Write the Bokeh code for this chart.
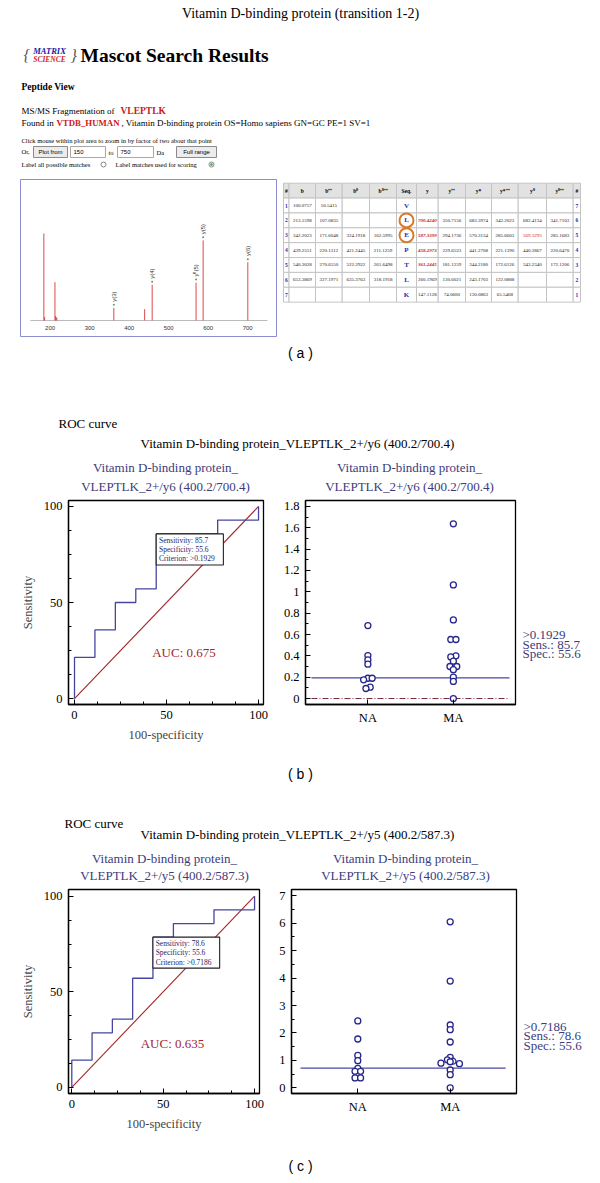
import math
from bokeh.plotting import figure
from bokeh.layouts import column, row
from bokeh.models import Range1d, FixedTicker, PrintfTickFormatter
from bokeh.core.properties import value
from bokeh.embed import file_html
from bokeh.resources import INLINE

SERIF = value("Liberation Serif")
SANS = value("Liberation Sans")

# ---------------- data ----------------
page_title = "Vitamin D-binding protein (transition 1-2)"
peptide = "VLEPTLK"
protein_acc = "VTDB_HUMAN"
protein_rest = ", Vitamin D-binding protein OS=Homo sapiens GN=GC PE=1 SV=1"
range_from = "150"
range_to = "750"

spec_mz = [184.1, 186.0, 212.2, 213.6, 215.1, 217.0, 361.24, 439.26, 458.30, 569.33, 587.34, 700.42]
spec_int = [1.00, 0.04, 0.44, 0.05, 0.04, 0.03, 0.145, 0.13, 0.41, 0.435, 0.92, 0.67]
ion_labels = ["y(3)", "y(4)", "y\u2070(5)", "y(5)", "y(6)"]
ion_mz = [361.24, 458.30, 569.33, 587.34, 700.42]
ion_int = [0.145, 0.41, 0.435, 0.92, 0.67]
spec_ticks = [200, 300, 400, 500, 600, 700]

tbl_header = ["#", "b", "b\u207a\u207a", "b\u2070", "b\u2070\u207a\u207a", "Seq.", "y", "y\u207a\u207a",
              "y*", "y*\u207a\u207a", "y\u2070", "y\u2070\u207a\u207a", "#"]
col_idx = ["1", "2", "3", "4", "5", "6", "7"]
col_b = ["100.0757", "213.1598", "342.2023", "439.2551", "540.3028", "653.3869", ""]
col_b2 = ["50.5415", "107.0835", "171.6048", "220.1312", "270.6550", "327.1971", ""]
col_b0 = ["", "", "324.1918", "421.2445", "522.2922", "635.3763", ""]
col_b02 = ["", "", "162.5995", "211.1259", "261.6498", "318.1918", ""]
col_seq = ["V", "L", "E", "P", "T", "L", "K"]
col_y = ["", "700.4240", "587.3399", "458.2973", "361.2445", "260.1969", "147.1128"]
col_y2 = ["", "350.7156", "294.1736", "229.6523", "181.1259", "130.6021", "74.0600"]
col_ys = ["", "683.3974", "570.3134", "441.2708", "344.2180", "243.1703", "130.0863"]
col_ys2 = ["", "342.2023", "285.6603", "221.1390", "172.6126", "122.0888", "65.5468"]
col_y0 = ["", "682.4134", "569.3293", "440.2867", "343.2340", "", ""]
col_y02 = ["", "341.7103", "285.1683", "220.6470", "172.1206", "", ""]
col_ridx = ["7", "6", "5", "4", "3", "2", "1"]
matched_y = [False, True, True, True, True, False, False]
matched_y0 = [False, False, True, False, False, False, False]
circled_seq = [False, True, True, False, False, False, False]

roc_title_b = "Vitamin D-binding protein_VLEPTLK_2+/y6 (400.2/700.4)"
sub1 = "Vitamin D-binding protein_"
sub2_b = "VLEPTLK_2+/y6 (400.2/700.4)"
roc_b_fpr = [0, 0, 11.1, 11.1, 22.2, 22.2, 33.3, 33.3, 44.4, 44.4, 77.8, 77.8, 100, 100]
roc_b_tpr = [0, 21.4, 21.4, 35.7, 35.7, 50.0, 50.0, 57.1, 57.1, 85.7, 85.7, 92.9, 92.9, 100]
crit_b, sens_b, spec_b, auc_b = 0.1929, 85.7, 55.6, 0.675
na_b = [0.684, 0.403, 0.362, 0.322, 0.19, 0.19, 0.175, 0.106, 0.094]
na_b_jit = [0, 0, 0, 0, 0, 0.05, -0.05, 0.027, -0.023]
ma_b = [1.637, 1.065, 0.737, 0.553, 0.553, 0.40, 0.39, 0.35, 0.30, 0.30, 0.27, 0.20, 0.16, 0.0]
ma_b_jit = [0, 0, 0, -0.03, 0.03, 0.03, -0.03, 0, -0.04, 0.04, 0, 0, 0, 0]
dot_b_ticks = [0, 0.2, 0.4, 0.6, 0.8, 1, 1.2, 1.4, 1.6, 1.8]
dot_b_minor = [0.1, 0.3, 0.5, 0.7, 0.9, 1.1, 1.3, 1.5, 1.7]

roc_title_c = "Vitamin D-binding protein_VLEPTLK_2+/y5 (400.2/587.3)"
sub2_c = "VLEPTLK_2+/y5 (400.2/587.3)"
roc_c_fpr = [0, 0, 11.1, 11.1, 22.2, 22.2, 33.3, 33.3, 44.4, 44.4, 55.6, 55.6, 77.8, 77.8, 100, 100]
roc_c_tpr = [0, 14.3, 14.3, 28.6, 28.6, 35.7, 35.7, 57.1, 57.1, 78.6, 78.6, 85.7, 85.7, 92.9, 92.9, 100]
crit_c, sens_c, spec_c, auc_c = 0.7186, 78.6, 55.6, 0.635
na_c = [2.44, 1.78, 1.18, 0.99, 0.71, 0.60, 0.60, 0.36, 0.36]
na_c_jit = [0, 0, 0, 0, 0, -0.03, 0.03, -0.03, 0.03]
ma_c = [6.05, 3.89, 2.29, 2.12, 1.67, 1.11, 1.02, 0.97, 0.95, 0.90, 0.88, 0.65, 0.48, 0.0]
ma_c_jit = [0, 0, 0, 0, 0, 0, -0.03, 0.03, 0, -0.1, 0.1, 0, 0, 0]
dot_c_ticks = [0, 1, 2, 3, 4, 5, 6, 7]
dot_c_minor = [0.5, 1.5, 2.5, 3.5, 4.5, 5.5, 6.5]
groups = ["NA", "MA"]

roc_ticks = [0, 50, 100]
roc_minor = [0, 12.5, 25, 37.5, 50, 62.5, 75, 87.5, 100]

NAVY = "#3b3b7e"
DOT = "#27278a"
RED = "#a3262c"


# ---------------- helpers ----------------
def canvas(x0, x1, y0, y1):
    p = figure(width=x1 - x0, height=y1 - y0, x_range=Range1d(x0, x1), y_range=Range1d(y1, y0),
               output_backend="svg", toolbar_location=None, min_border=0,
               x_axis_type=None, y_axis_type=None)
    p.outline_line_color = None
    p.grid.visible = False
    return p


def txt(p, x, y, s, size, color="black", font=SERIF, align="left", style="normal", angle=0):
    p.text(x=[x], y=[y], text=[s], text_font=font, text_font_size=f"{size}px", text_color=color,
           text_align=align, text_baseline="middle", text_font_style=style, angle=angle)


def style_axes(p, size="12.5px"):
    p.grid.visible = False
    p.outline_line_color = "black"
    p.outline_line_width = 1.3
    for ax in p.axis:
        ax.major_tick_in = 5
        ax.major_tick_out = 0
        ax.minor_tick_in = 3
        ax.minor_tick_out = 0
        ax.axis_line_color = "black"
        ax.axis_line_width = 1.3
        ax.major_tick_line_color = "black"
        ax.minor_tick_line_color = "black"
        ax.major_label_text_font = "Liberation Serif"
        ax.major_label_text_font_size = size
        ax.major_label_text_color = "black"
        ax.major_label_standoff = 6
        ax.axis_label_text_font = "Liberation Serif"
        ax.axis_label_text_font_size = size
        ax.axis_label_text_font_style = "normal"
        ax.axis_label_standoff = 6


# ---------------- header A ----------------
hA = canvas(0, 600, 0, 176)
txt(hA, 300, 13, page_title, 14, align="center")
txt(hA, 23, 55, "{", 16, color="#555555", style="italic")
txt(hA, 49, 50, "MATRIX", 8.5, color="#1a1aa8", style="bold italic", align="center")
txt(hA, 49, 59, "SCIENCE", 7.5, color="#cc1f1f", style="bold italic", align="center")
txt(hA, 70, 55, "}", 16, color="#555555", style="italic")
txt(hA, 80, 55, "Mascot Search Results", 19.5, style="bold")
txt(hA, 21, 86, "Peptide View", 9.5, style="bold")
txt(hA, 21, 110, "MS/MS Fragmentation of", 9)
txt(hA, 120, 110, peptide, 9.5, color="#d01818", style="bold")
txt(hA, 21, 122, "Found in", 9)
txt(hA, 56, 122, protein_acc, 8.8, color="#d01818", style="bold")
txt(hA, 121, 122, protein_rest, 9)
txt(hA, 21, 140, "Click mouse within plot area to zoom in by factor of two about that point", 6.5)
txt(hA, 21, 151, "Or,", 6.5)
hA.quad(left=[33, 176], right=[67, 216], top=[146, 146], bottom=[157, 157],
        fill_color="#ececec", line_color="#8a8a8a", line_width=1)
hA.quad(left=[70, 117], right=[105, 153], top=[146, 146], bottom=[157, 157],
        fill_color="white", line_color="#a8a8a8", line_width=1)
txt(hA, 50, 151.5, "Plot from", 6, font=SANS, align="center")
txt(hA, 196, 151.5, "Full range", 6, font=SANS, align="center")
txt(hA, 73, 151.5, range_from, 6, font=SANS)
txt(hA, 120, 151.5, range_to, 6, font=SANS)
txt(hA, 108, 151.5, "to", 6.5)
txt(hA, 156, 151.5, "Da", 6.5)
txt(hA, 21, 164, "Label all possible matches", 6.5)
hA.scatter(x=[103, 211], y=[164, 164], size=5, marker="circle", fill_color="white", line_color="#888888")
hA.scatter(x=[211], y=[164], size=2.5, marker="circle", fill_color="#3a9a4a", line_color=None)
txt(hA, 115, 164, "Label matches used for scoring", 6.5)

# ---------------- spectrum ----------------
sp = figure(width=282, height=169, x_range=Range1d(125, 773), y_range=Range1d(-0.184, 1.62),
            output_backend="svg", toolbar_location=None, min_border_left=20, min_border_right=6,
            min_border_top=3, min_border_bottom=9, x_axis_type=None, y_axis_type=None)
sp.grid.visible = False
sp.outline_line_color = "#8c8cd0"
sp.outline_line_width = 1
sp.segment(x0=[150], x1=[750], y0=[0], y1=[0], line_color="#bbbbbb", line_width=1)
sp.segment(x0=spec_mz, x1=spec_mz, y0=[0] * len(spec_mz), y1=spec_int, line_color="#e04848", line_width=1)
sp.scatter(x=ion_mz, y=[v + 0.035 for v in ion_int], size=2, marker="circle", fill_color="#55a060", line_color=None)
sp.text(x=ion_mz, y=[v + 0.07 for v in ion_int], text=ion_labels, angle=math.pi / 2,
        text_font=SANS, text_font_size="6px", text_align="left", text_baseline="middle", text_color="#333333")
sp.text(x=spec_ticks, y=[-0.09] * len(spec_ticks), text=[str(t) for t in spec_ticks],
        text_font=SANS, text_font_size="6px", text_align="center", text_baseline="middle", text_color="#333333")

# ---------------- table ----------------
tb = canvas(282, 600, 176, 345)
col_edges = [283, 288.5, 315, 341.7, 369, 396, 416, 437.7, 465, 491, 517.7, 546, 572.7, 580]
row_edges = [180, 196, 212, 228, 244, 260, 276, 292, 308]
ql, qr, qt, qb, qf = [], [], [], [], []
for r in range(8):
    for c in range(13):
        ql.append(col_edges[c]); qr.append(col_edges[c + 1])
        qt.append(row_edges[r]); qb.append(row_edges[r + 1])
        qf.append("#e2e2e2" if r == 0 else "white")
tb.quad(left=ql, right=qr, top=qt, bottom=qb, fill_color=qf, line_color="#c4c4c4", line_width=1)
cx = [(col_edges[i] + col_edges[i + 1]) / 2 for i in range(13)]
ry = [(row_edges[i] + row_edges[i + 1]) / 2 for i in range(8)]
tb.text(x=cx, y=[ry[0]] * 13, text=tbl_header, text_font=SERIF, text_font_size="5.5px",
        text_font_style="bold", text_align="center", text_baseline="middle")
cols = [col_idx, col_b, col_b2, col_b0, col_b02, col_seq, col_y, col_y2, col_ys, col_ys2, col_y0, col_y02, col_ridx]
for c, colv in enumerate(cols):
    for r, s in enumerate(colv):
        if not s:
            continue
        color, style, size = "#222222", "normal", 5
        if c in (0, 12):
            color, style, size = "#2b2bb0", "bold", 5.5
        elif c == 5:
            color, style, size = "#2b2bb0", "bold", 7
        elif c == 6 and matched_y[r]:
            color, style = "#d42020", "bold italic"
        elif c == 10 and matched_y0[r]:
            color, style = "#d42020", "normal"
        txt(tb, cx[c], ry[r + 1], s, size, color=color, style=style, align="center")
circ_y = [ry[r + 1] for r in range(7) if circled_seq[r]]
tb.scatter(x=[cx[5]] * len(circ_y), y=circ_y, size=14, marker="circle", fill_color=None,
           line_color="#d87a28", line_width=2)

# ---------------- canvas between a and b ----------------
cab = canvas(0, 600, 345, 497)
txt(cab, 300, 352, "( a )", 14, font=SANS, align="center")
txt(cab, 58, 423, "ROC curve", 13)
txt(cab, 297, 443, roc_title_b, 13, align="center")
txt(cab, 165, 467, sub1, 13, color=NAVY, align="center")
txt(cab, 165, 486, sub2_b, 13, color=NAVY, align="center")
txt(cab, 409, 467, sub1, 13, color=NAVY, align="center")
txt(cab, 409, 486, sub2_b, 13, color=NAVY, align="center")


def roc_fig(w, h, xr, yr, bl, br, bt, bb, fpr, tpr, crit, sens, spec, auc, auc_xy, pxu):
    p = figure(width=w, height=h, x_range=Range1d(*xr), y_range=Range1d(*yr),
               output_backend="svg", toolbar_location=None,
               min_border_left=bl, min_border_right=br, min_border_top=bt, min_border_bottom=bb)
    style_axes(p)
    p.xaxis.ticker = FixedTicker(ticks=roc_ticks, minor_ticks=roc_minor)
    p.yaxis.ticker = FixedTicker(ticks=roc_ticks, minor_ticks=roc_minor)
    p.xaxis.axis_label = "100-specificity"
    p.yaxis.axis_label = "Sensitivity"
    p.line(x=[0, 100], y=[0, 100], line_color=RED, line_width=1.1)
    p.line(x=fpr, y=tpr, line_color="#4646a0", line_width=1.3)
    x0 = 100 - spec
    bw = 36.5
    bh = 31 / pxu
    p.quad(left=[x0], right=[x0 + bw], top=[sens], bottom=[sens - bh], fill_color="white",
           line_color="#222222", line_width=1.1)
    lines = [f"Sensitivity: {sens}", f"Specificity: {spec}", f"Criterion:  >{crit}"]
    offs = [6.3, 15.7, 25.0]
    p.text(x=[x0 + 1.5] * 3, y=[sens - o / pxu for o in offs], text=lines, text_font=SERIF,
           text_font_size="7.5px", text_color="#25256a", text_align="left", text_baseline="middle")
    p.text(x=[auc_xy[0]], y=[auc_xy[1]], text=[f"AUC: {auc}"], text_font=SERIF, text_font_size="13px",
           text_color=RED, text_align="center", text_baseline="middle")
    return p


def dot_fig(w, h, xr, yr, bl, br, bt, bb, na, na_j, ma, ma_j, ticks, minor, crit, zero_line, seg):
    p = figure(width=w, height=h, x_range=Range1d(*xr), y_range=Range1d(*yr),
               output_backend="svg", toolbar_location=None,
               min_border_left=bl, min_border_right=br, min_border_top=bt, min_border_bottom=bb)
    style_axes(p)
    p.yaxis.ticker = FixedTicker(ticks=ticks, minor_ticks=minor)
    p.yaxis.formatter = PrintfTickFormatter(format="%g")
    p.xaxis.ticker = FixedTicker(ticks=[1, 2])
    p.xaxis.major_label_overrides = {1: groups[0], 2: groups[1]}
    p.xaxis.minor_tick_in = 0
    if zero_line:
        p.segment(x0=[seg[0]], x1=[seg[1]], y0=[0], y1=[0], line_color="#7a2a3a", line_width=1,
                  line_dash="6 2 1 2")
    p.segment(x0=[seg[0]], x1=[seg[1]], y0=[crit], y1=[crit], line_color="#4a4aa0", line_width=1.2)
    xs = [1 + j for j in na_j] + [2 + j for j in ma_j]
    ys = list(na) + list(ma)
    p.scatter(x=xs, y=ys, marker="circle", size=6, fill_color="white", line_color=DOT, line_width=1.3)
    return p


rocB = roc_fig(280, 258, (-3.26, 102.7), (-3.1, 103.1), 68, 17, 3, 51,
               roc_b_fpr, roc_b_tpr, crit_b, sens_b, spec_b, auc_b, (59.5, 24), 1.92)
dotB = dot_fig(238, 258, (0.27, 2.727), (-0.056, 1.856), 23, 3, 3, 51,
               na_b, na_b_jit, ma_b, ma_b_jit, dot_b_ticks, dot_b_minor, crit_b, True, (0.34, 2.657))
annB = canvas(518, 600, 497, 755)
txt(annB, 522, 667, f">{crit_b}", 13, color=NAVY)
txt(annB, 522, 679, f"Sens.: {sens_b}", 13, color=NAVY)
txt(annB, 522, 691, f"Spec.: {spec_b}", 13, color=NAVY)

cbc = canvas(0, 600, 755, 887)
txt(cbc, 300, 773, "( b )", 14, font=SANS, align="center")
txt(cbc, 64, 823, "ROC curve", 13)
txt(cbc, 297, 834, roc_title_c, 13, align="center")
txt(cbc, 164, 857.7, sub1, 13, color=NAVY, align="center")
txt(cbc, 164, 875, sub2_c, 13, color=NAVY, align="center")
txt(cbc, 405, 857.7, sub1, 13, color=NAVY, align="center")
txt(cbc, 405, 875, sub2_c, 13, color=NAVY, align="center")

rocC = roc_fig(275, 253, (-1.8, 102.7), (-3.14, 103.5), 68, 16, 2, 47,
               roc_c_fpr, roc_c_tpr, crit_c, sens_c, spec_c, auc_c, (55.1, 22.8), 1.913)
dotC = dot_fig(244, 253, (0.2825, 2.7175), (-0.207, 7.23), 16, 3, 2, 47,
               na_c, na_c_jit, ma_c, ma_c_jit, dot_c_ticks, dot_c_minor, crit_c, False, (0.38, 2.6))
annC = canvas(519, 600, 887, 1140)
txt(annC, 523, 1056.7, f">{crit_c}", 13, color=NAVY)
txt(annC, 523, 1068.3, f"Sens.: {sens_c}", 13, color=NAVY)
txt(annC, 523, 1080, f"Spec.: {spec_c}", 13, color=NAVY)

cend = canvas(0, 600, 1140, 1182)
txt(cend, 300, 1165, "( c )", 14, font=SANS, align="center")

layout = column(hA, row(sp, tb), cab, row(rocB, dotB, annB), cbc, row(rocC, dotC, annC), cend)
open("out.html", "w").write(file_html(layout, INLINE))
